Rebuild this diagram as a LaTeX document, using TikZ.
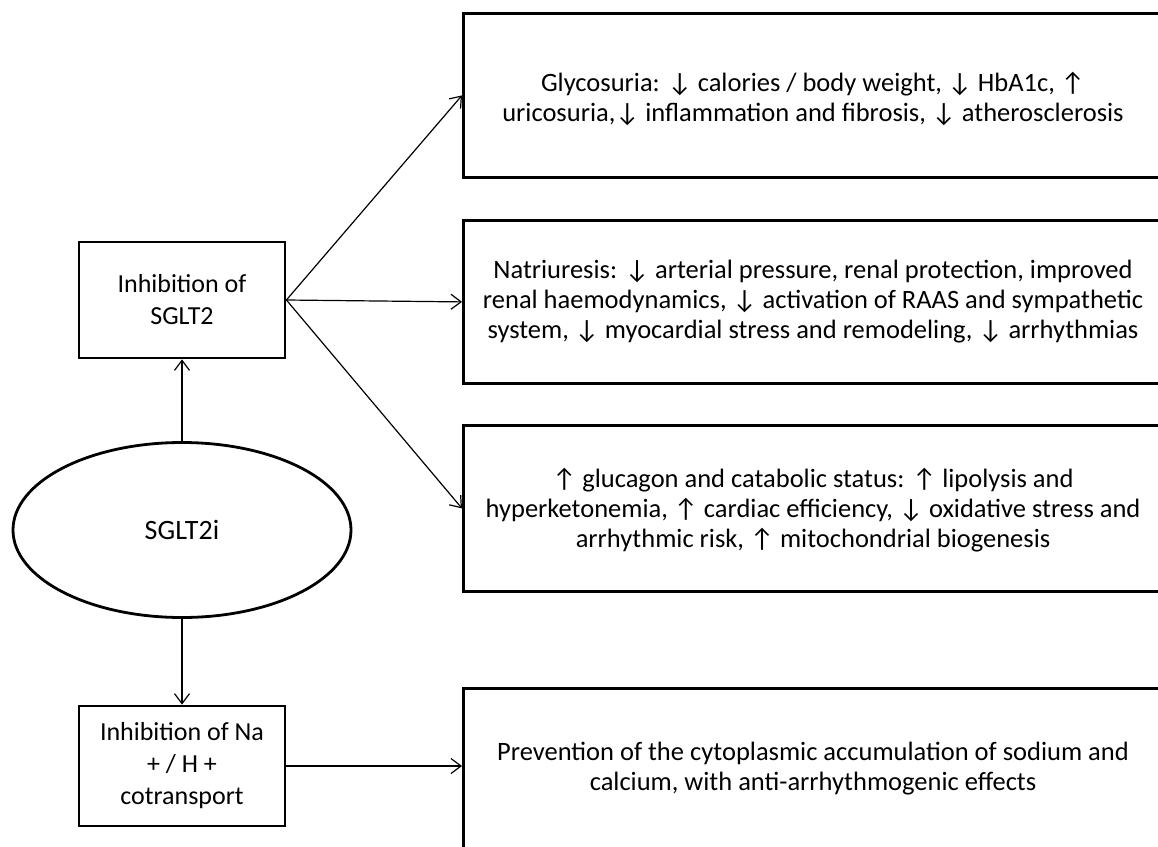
\documentclass[tikz,border=0pt]{standalone}
\usepackage{fontspec}
\setmainfont{Carlito}
\newcommand{\upar}{↑}
\newcommand{\dnar}{↓}
\usetikzlibrary{calc,positioning,shapes.geometric,arrows.meta}

\begin{document}
\begin{tikzpicture}[x=1pt,y=-1pt,
    every node/.style={align=center},
    causebox/.style={draw,line width=2.8pt,minimum width=206pt,inner sep=0pt,
      font=\fontsize{26}{32}\selectfont},
    effbox/.style={draw,line width=2.8pt,minimum width=720pt,anchor=north west,inner sep=0pt},
    efftext/.style={font=\fontsize{26.5}{30}\selectfont},
    link/.style={-{Straight Barb[length=10pt,width=15pt,line width=1.2pt]},line width=1.2pt}]
  \useasboundingbox (0,0) rectangle (1158,846);
  % left column
  \node[ellipse,draw,line width=2.8pt,minimum width=338pt,minimum height=175pt,inner sep=0pt,
    font=\fontsize{28}{32}\selectfont] (drug) at (182,530) {SGLT2i};
  \node[causebox,minimum height=116pt] (sglt) at (182,300) {Inhibition of\\SGLT2};
  \node[causebox,minimum height=120pt] (nhe) at (182,766) {Inhibition of Na\\+ / H +\\cotransport};
  % right column
  \node[effbox,minimum height=164pt] (glyBox) at (462,12) {};
  \node[effbox,minimum height=163pt] (natBox) at (462,219) {};
  \node[effbox,minimum height=166pt] (metBox) at (462,424) {};
  \node[effbox,minimum height=175pt] (preBox) at (462,687) {};
  \node[efftext] (glyText) at (813,99) {Glycosuria: \dnar\ calories / body weight, \dnar\ HbA1c, \upar\\uricosuria,\dnar\ inflammation and fibrosis, \dnar\ atherosclerosis};
  \node[efftext] (natText) at (813,302) {Natriuresis: \dnar\ arterial pressure, renal protection, improved\\renal haemodynamics, \dnar\ activation of RAAS and sympathetic\\system, \dnar\ myocardial stress and remodeling, \dnar\ arrhythmias};
  \node[efftext] (metText) at (813,510) {\upar\ glucagon and catabolic status: \upar\ lipolysis and\\hyperketonemia, \upar\ cardiac efficiency, \dnar\ oxidative stress and\\arrhythmic risk, \upar\ mitochondrial biogenesis};
  \node[efftext] (preText) at (813,769) {Prevention of the cytoplasmic accumulation of sodium and\\calcium, with anti-arrhythmogenic effects};
  % connectors
  \draw[link] (drug.north) -- (sglt.south);
  \draw[link] (drug.south) -- (nhe.north);
  \draw[link] (sglt.east) -- (glyBox.west);
  \draw[link] (sglt.east) -- (natBox.west);
  \draw[link] (sglt.east) -- (metBox.west);
  \draw[link] (nhe.east) -- (nhe.east -| preBox.west);
\end{tikzpicture}
\end{document}
